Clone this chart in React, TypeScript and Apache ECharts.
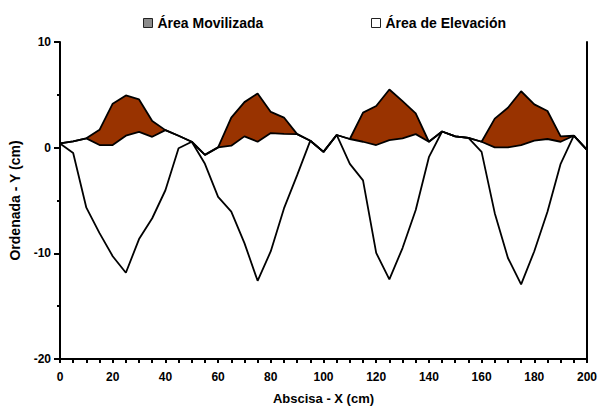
import React, { useEffect, useRef } from "react";
import * as echarts from "echarts";

const xValues = [
  0, 5, 10, 15, 20, 25, 30, 35, 40, 45, 50, 55, 60, 65, 70, 75, 80, 85, 90, 95, 100,
  105, 110, 115, 120, 125, 130, 135, 140, 145, 150, 155, 160, 165, 170, 175, 180, 185, 190, 195, 200,
];
// Top of the mobilised area
const upperValues = [
  0.4, 0.6, 0.88, 1.69, 4.16, 4.94, 4.56, 2.53, 1.66, 1.13, 0.56, -0.68, 0.03, 2.85, 4.31, 5.13, 3.38, 2.85, 1.28, 0.66, -0.4,
  1.2, 0.82, 3.32, 3.94, 5.5, 4.41, 3.25, 0.56, 1.53, 1.07, 0.92, 0.56, 2.75, 3.78, 5.34, 4.1, 3.47, 1.07, 1.13, -0.2,
];
// Surface between mobilised and elevation areas
const middleValues = [
  0.4, 0.6, 0.88, 0.25, 0.25, 1.13, 1.5, 1.03, 1.66, 1.13, 0.56, -0.68, 0.03, 0.19, 1.07, 0.56, 1.38, 1.3, 1.28, 0.66, -0.4,
  1.2, 0.82, 0.56, 0.25, 0.72, 0.88, 1.28, 0.56, 1.53, 1.07, 0.92, 0.56, 0.03, 0.03, 0.25, 0.66, 0.82, 0.56, 1.13, -0.2,
];
// Bottom of the elevation area
const deepValues = [
  0.4, -0.5, -5.68, -8.09, -10.27, -11.84, -8.65, -6.68, -4.03, -0.06, 0.56, -1.53, -4.65, -6.06, -9.03, -12.6, -9.8, -5.75, -2.6, 0.66, -0.4,
  1.2, -1.53, -3.09, -9.96, -12.46, -9.5, -5.9, -0.9, 1.53, 1.07, 0.92, -0.4, -6.2, -10.44, -12.93, -9.8, -6.06, -1.53, 1.13, -0.2,
];
const seriesNames = ["Área Movilizada", "Área de Elevación"];
const xAxisName = "Abscisa - X (cm)";
const yAxisName = "Ordenada - Y (cm)";

export default function App() {
  const ref = useRef<HTMLDivElement>(null);
  useEffect(() => {
    const chart = echarts.init(ref.current!, null, { renderer: "svg" });
    const font = "'Liberation Sans', Arial, sans-serif";
    const black = "#000";
    const upperData = xValues.map((x, i) => [x, upperValues[i]]);
    const middleData = xValues.map((x, i) => [x, middleValues[i]]);
    const deepData = xValues.map((x, i) => [x, deepValues[i]]);
    const legendText = { fontFamily: font, fontWeight: "bold", fontSize: 14, color: black };
    const lineCommon = {
      type: "line",
      showSymbol: false,
      symbol: "none",
      lineStyle: { color: black, width: 1.8 },
      z: 3,
    };
    chart.setOption({
      animation: false,
      backgroundColor: "#fff",
      grid: { left: 59, right: 10, top: 42, bottom: 47 },
      legend: [
        {
          left: 138,
          top: 11,
          icon: "rect",
          itemWidth: 9,
          itemHeight: 9,
          textStyle: legendText,
          data: [{ name: seriesNames[0], itemStyle: { color: "#8c8c8c", borderColor: "#222", borderWidth: 1 } }],
        },
        {
          left: 366,
          top: 11,
          icon: "rect",
          itemWidth: 9,
          itemHeight: 9,
          textStyle: legendText,
          data: [{ name: seriesNames[1], itemStyle: { color: "#fff", borderColor: "#222", borderWidth: 1 } }],
        },
      ],
      xAxis: {
        type: "value",
        min: 0,
        max: 200,
        interval: 20,
        name: xAxisName,
        nameLocation: "middle",
        nameGap: 33,
        nameTextStyle: { fontFamily: font, fontWeight: "bold", fontSize: 13, color: black },
        axisLine: { show: true, onZero: false, lineStyle: { color: black, width: 2 } },
        axisTick: { show: true, length: 4, lineStyle: { color: black, width: 2 } },
        minorTick: { show: true, splitNumber: 4, length: 4, lineStyle: { color: black, width: 2 } },
        splitLine: { show: false },
        axisLabel: { fontFamily: font, fontWeight: "bold", fontSize: 12, color: black, margin: 12 },
      },
      yAxis: [
        {
          type: "value",
          min: -20,
          max: 10,
          interval: 10,
          name: yAxisName,
          nameLocation: "middle",
          nameGap: 38,
          nameTextStyle: { fontFamily: font, fontWeight: "bold", fontSize: 14, color: black },
          axisLine: { show: true, onZero: false, lineStyle: { color: black, width: 2 } },
          axisTick: { show: true, length: 6, lineStyle: { color: black, width: 2 } },
          minorTick: { show: true, splitNumber: 2, length: 3, lineStyle: { color: black, width: 2 } },
          splitLine: { show: false },
          axisLabel: { fontFamily: font, fontWeight: "bold", fontSize: 12, color: black, margin: 9 },
        },
        {
          type: "value",
          position: "right",
          min: -20,
          max: 10,
          interval: 10,
          axisLine: { show: true, onZero: false, lineStyle: { color: black, width: 2 } },
          axisTick: { show: false },
          axisLabel: { show: false },
          splitLine: { show: false },
        },
      ],
      series: [
        {
          name: seriesNames[0],
          type: "custom",
          itemStyle: { color: "#993300" },
          data: [[0, 0]],
          z: 1,
          renderItem: (_params: any, api: any) => {
            const top = xValues.map((x, i) => api.coord([x, upperValues[i]]));
            const bottom = xValues.map((x, i) => api.coord([x, middleValues[i]])).reverse();
            return {
              type: "polygon",
              shape: { points: top.concat(bottom) },
              style: { fill: "#993300", stroke: "none" },
            };
          },
        },
        { ...lineCommon, name: "upper", data: upperData, itemStyle: { color: black } },
        { ...lineCommon, name: "middle", data: middleData, itemStyle: { color: black } },
        { ...lineCommon, name: seriesNames[1], data: deepData, itemStyle: { color: "#fff" } },
      ],
    });
    return () => chart.dispose();
  }, []);
  return <div ref={ref} style={{ position: "fixed", left: 0, top: 0, width: 600, height: 410 }} />;
}
